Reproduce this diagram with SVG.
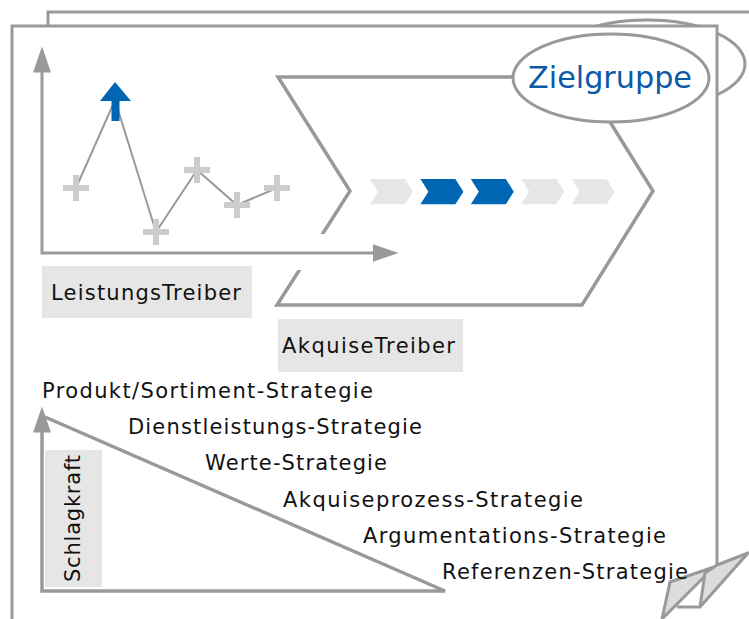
<svg xmlns="http://www.w3.org/2000/svg" width="749" height="619" viewBox="0 0 749 619">
<defs>
<style>
.pg{fill:#fff;stroke:#999;stroke-width:3}
.ln{fill:none;stroke:#999;stroke-width:3.5}
.ax{fill:none;stroke:#999;stroke-width:3}
.lbl{fill:#e6e6e6}
.t{font-family:"DejaVu Sans","Liberation Sans",sans-serif;font-size:21px;fill:#111}
.t2{font-family:"DejaVu Sans","Liberation Sans",sans-serif;font-size:21px;fill:#111}
.pl{stroke:#cccccc;stroke-width:6;fill:none}
.cl{fill:#e6e6e6}
.cb{fill:#0066b3}
.fold{fill:#dcdcdc;stroke:#999;stroke-width:3;stroke-linejoin:round}
</style>
<marker id="ah" markerUnits="userSpaceOnUse" markerWidth="27" markerHeight="20" viewBox="0 -10 27 20" refX="0.5" refY="0" orient="auto-start-reverse">
<path d="M0,-9 L26,0 L0,9 z" fill="#999"/>
</marker>
</defs>

<g id="page-back">
<path class="pg" d="M48,40 V12 H760"/>
<ellipse class="pg" cx="647" cy="64" rx="98" ry="44"/>
</g>

<g id="page-front">
<path d="M12,640 V26 H717 V565 L662,640 z" fill="#fff"/>
<path class="pg" fill="none" d="M12,640 V26 H717 V565"/>
</g>

<g id="fold">
<polygon class="fold" points="670,582 714,567 662,619"/>
<polygon class="fold" points="717,565 748,553 700,607 705,573"/>
<line x1="700" y1="607" x2="677" y2="607" stroke="#999" stroke-width="3"/>
</g>

<g id="akquise-chevron">
<polygon class="ln" fill="none" points="278,77 582,77 653,191 582,305 277,305 350,191"/>
<rect x="292" y="234" width="45" height="36" fill="#fff"/>
<polygon class="cl" points="370,179 405,179 413,191.7 405,204.3 370,204.3 378,191.7"/>
<polygon class="cb" points="420.4,179 455.4,179 463.4,191.7 455.4,204.3 420.4,204.3 428.4,191.7"/>
<polygon class="cb" points="470.8,179 505.8,179 513.8,191.7 505.8,204.3 470.8,204.3 478.8,191.7"/>
<polygon class="cl" points="521.2,179 556.2,179 564.2,191.7 556.2,204.3 521.2,204.3 529.2,191.7"/>
<polygon class="cl" points="571.6,179 606.6,179 614.6,191.7 606.6,204.3 571.6,204.3 579.6,191.7"/>
</g>

<g id="zielgruppe">
<ellipse cx="611" cy="78" rx="98" ry="44" fill="#fff" stroke="#999" stroke-width="3"/>
<text x="528" y="88" font-family="DejaVu Sans, Liberation Sans, sans-serif" font-size="31" fill="#0b5aa8" textLength="164" lengthAdjust="spacingAndGlyphs">Zielgruppe</text>
</g>

<g id="leistung-chart">
<polyline points="76,188 115,100 156,232 197,170 237,205 277,188" fill="none" stroke="#999" stroke-width="2"/>
<path class="pl" d="M63,188 H89 M76,175 V201"/>
<path class="pl" d="M143,232 H169 M156,219 V245"/>
<path class="pl" d="M184,170 H210 M197,157 V183"/>
<path class="pl" d="M224,205 H250 M237,192 V218"/>
<path class="pl" d="M264,188 H290 M277,175 V201"/>
<polygon class="cb" points="115,82 131,101 119.5,101 119.5,121 111.5,121 111.5,101 100,101"/>
</g>

<g id="connectors">
<path class="ax" d="M42,72 V253 H373" marker-start="url(#ah)" marker-end="url(#ah)"/>
<path class="ln" d="M42,432 V591 H445 L45,417" marker-start="url(#ah)"/>
</g>

<g id="label-leistung">
<rect class="lbl" x="42" y="266" width="210" height="52"/>
<text class="t2" x="51" y="300" textLength="190">LeistungsTreiber</text>
</g>

<g id="label-akquise">
<rect class="lbl" x="278" y="319" width="185" height="53"/>
<text class="t2" x="282" y="353" textLength="173">AkquiseTreiber</text>
</g>

<g id="label-schlagkraft">
<rect class="lbl" x="45" y="450" width="57" height="137"/>
<text class="t2" transform="translate(80,582) rotate(-90)" x="0" y="0" textLength="127">Schlagkraft</text>
</g>

<g id="strategies">
<text class="t" x="42" y="398" textLength="331">Produkt/Sortiment-Strategie</text>
<text class="t" x="128" y="434" textLength="294">Dienstleistungs-Strategie</text>
<text class="t" x="205" y="470" textLength="182">Werte-Strategie</text>
<text class="t" x="283" y="506.5" textLength="300">Akquiseprozess-Strategie</text>
<text class="t" x="363" y="542.5" textLength="303">Argumentations-Strategie</text>
<text class="t" x="442" y="578.5" textLength="246">Referenzen-Strategie</text>
</g>
</svg>
